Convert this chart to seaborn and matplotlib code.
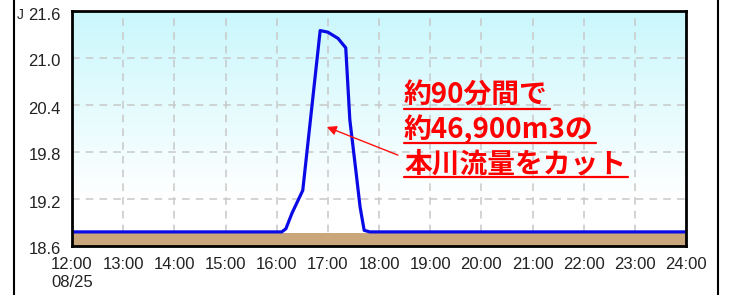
import numpy as np
import pandas as pd
import matplotlib
matplotlib.use("Agg")
import matplotlib.pyplot as plt
import matplotlib.transforms as mtransforms
import seaborn as sns
from matplotlib.lines import Line2D

# ---- data ----
hours = [12.0, 16.10, 16.18, 16.30, 16.51, 16.85, 17.00, 17.20, 17.35, 17.43, 17.55, 17.63, 17.71, 17.82, 24.0]
level = [18.78, 18.78, 18.82, 19.02, 19.31, 21.35, 21.33, 21.25, 21.13, 20.21, 19.55, 19.10, 18.80, 18.78, 18.78]
band_top = 18.76
y_ticks = [18.6, 19.2, 19.8, 20.4, 21.0, 21.6]
x_ticks = [12, 13, 14, 15, 16, 17, 18, 19, 20, 21, 22, 23, 24]
x_labels = ["12:00\n08/25", "13:00", "14:00", "15:00", "16:00", "17:00", "18:00",
            "19:00", "20:00", "21:00", "22:00", "23:00", "24:00"]
note_lines = ["約90分間で", "約46,900m3の", "本川流量をカット"]
arrow_head = (16.98, 20.12)
arrow_tail = (18.37, 19.76)

df = pd.DataFrame({"hour": hours, "level": level})

sns.set_style("white")
plt.rcParams["font.family"] = ["Liberation Sans", "DejaVu Sans"]

W, H = 733, 295
fig = plt.figure(figsize=(W / 100, H / 100), dpi=100)
ax = fig.add_axes([72 / W, 1 - 246 / H, (686 - 72) / W, (246 - 11) / H])

# gradient background
grad = np.linspace(0, 1, 256).reshape(-1, 1)
top = np.array([0.79, 0.97, 0.99])
white = np.array([1.0, 1.0, 1.0])
t = np.clip(grad / 0.8, 0, 1)
img = top * (1 - t) + white * t
ax.imshow(img.reshape(256, 1, 3), extent=[0, 1, 0, 1], transform=ax.transAxes,
          aspect="auto", zorder=0, origin="upper")

ax.set_xlim(12, 24)
ax.set_ylim(18.6, 21.6)

ax.fill_between([12, 24], 18.6, band_top, color="#c9a77b", zorder=2, linewidth=0)

sns.lineplot(data=df, x="hour", y="level", ax=ax, color="#0a0ae6", linewidth=2.3, zorder=3)

ax.set_xticks(x_ticks)
ax.set_xticklabels(x_labels, fontsize=12, color="#222222")
ax.set_yticks(y_ticks)
ax.set_yticklabels([f"{v:.1f}" for v in y_ticks], fontsize=12, color="#222222")
ax.grid(True, color="#c8c8c8", linestyle=(0, (5, 4)), linewidth=1.1, zorder=1)
for l in ax.get_xgridlines() + ax.get_ygridlines():
    l.set_zorder(1)
ax.tick_params(axis="y", direction="in", length=6, width=1.8, color="black", pad=8)
ax.tick_params(axis="x", length=0, pad=8)
ax.set_xlabel("")
ax.set_ylabel("")
for s in ax.spines.values():
    s.set_color("black")
    s.set_linewidth(2)
    s.set_visible(True)
    s.set_zorder(5)

# shift y tick labels slightly down, as in the reference
offset = mtransforms.ScaledTranslation(0, -2.5 / 100, fig.dpi_scale_trans)
for lab in ax.get_yticklabels():
    lab.set_transform(lab.get_transform() + offset)

# annotation arrow
ax.annotate("", xy=arrow_head, xytext=arrow_tail,
            arrowprops=dict(arrowstyle="-|>", color="#ff1010", lw=1.0, mutation_scale=14,
                            shrinkA=0, shrinkB=0), zorder=6)

# annotation text with underlines
texts = []
baselines = [104, 138, 172]
for line, yb in zip(note_lines, baselines):
    tx = fig.text(404 / W, 1 - yb / H, line, ha="left", va="baseline", color="#ff0000",
                  fontsize=20, fontweight="bold",
                  family=["Noto Sans CJK JP", "DejaVu Sans"], zorder=7)
    texts.append((tx, yb))

fig.canvas.draw()
r = fig.canvas.get_renderer()
for tx, yb in texts:
    bb = tx.get_window_extent(renderer=r)
    yl = 1 - (yb + 5) / H
    fig.add_artist(Line2D([bb.x0 / W, (bb.x1 + 2) / W], [yl, yl], color="#ff0000", lw=1.6))

# outer frame lines and clipped label fragment
fig.add_artist(Line2D([14 / W, 14 / W], [0, 1], color="black", lw=1.5))
fig.add_artist(Line2D([718 / W, 718 / W], [0, 1], color="black", lw=1.5))
fig.text(17 / W, 1 - 15 / H, "J", fontsize=10, ha="left", va="center", color="#222222")

fig.savefig("out.png", dpi=100)
